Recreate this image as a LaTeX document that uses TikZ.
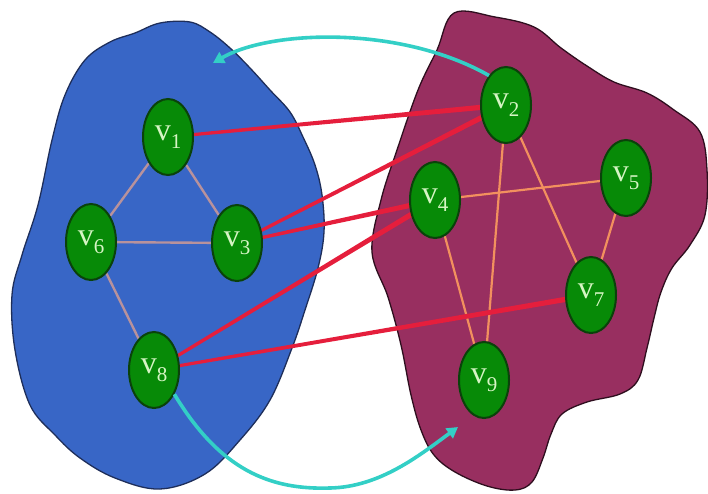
\documentclass[tikz,border=0pt]{standalone}
\usepackage{fontspec}
\setmainfont{Liberation Serif}
\usetikzlibrary{shapes.geometric,arrows.meta,calc}
\definecolor{bluefill}{HTML}{3866C6}
\definecolor{blueedge}{HTML}{1E2E5A}
\definecolor{purplefill}{HTML}{982F60}
\definecolor{purpleedge}{HTML}{2E0E1E}
\definecolor{vgreen}{HTML}{078A07}
\definecolor{vdark}{HTML}{0A420A}
\definecolor{vtext}{HTML}{D6F5C4}
\definecolor{leftedge}{HTML}{B8929C}
\definecolor{rightedge}{HTML}{F2905E}
\definecolor{redline}{HTML}{E51E3C}
\definecolor{cyanarrow}{HTML}{33CFC6}
\pgfdeclarelayer{blobs}
\pgfdeclarelayer{edges}
\pgfsetlayers{blobs,edges,main}
\newcommand{\vlab}[1]{v\raisebox{-8pt}{\fontsize{21}{21}\selectfont #1}}
\tikzset{
  vtx/.style={ellipse, draw=vdark, line width=2pt, fill=vgreen,
    minimum width=50pt, minimum height=76pt, inner sep=0pt,
    text=vtext, font=\fontsize{32}{32}\selectfont},
  thinleft/.style={draw=leftedge, line width=2.4pt},
  thinright/.style={draw=rightedge, line width=2.2pt},
  redtaper/.style={fill=redline},
  cyanarr/.style={draw=cyanarrow, line width=3.6pt,
    -{Triangle[length=11pt,width=12pt]}},
  blobblue/.style={draw=blueedge, line width=1.3pt, fill=bluefill},
  blobpurple/.style={draw=purpleedge, line width=1.3pt, fill=purplefill},
}
\newcommand{\taper}[2]{%
  \fill[redtaper] ($(#1.center)!1.5pt!90:(#2.center)$) -- ($(#2.center)!2.7pt!-90:(#1.center)$)
    -- ($(#2.center)!2.7pt!90:(#1.center)$) -- ($(#1.center)!1.5pt!-90:(#2.center)$) -- cycle;}
\begin{document}
\begin{tikzpicture}[x=1pt,y=-1pt]
\useasboundingbox (0,0) rectangle (708,493);
% nodes
\node[vtx] (v1) at (168,137) {\vlab{1}};
\node[vtx] (v6) at (91,242) {\vlab{6}};
\node[vtx] (v3) at (237,243) {\vlab{3}};
\node[vtx] (v8) at (154,370) {\vlab{8}};
\node[vtx] (v2) at (506,105) {\vlab{2}};
\node[vtx] (v4) at (435,200) {\vlab{4}};
\node[vtx] (v5) at (626,178) {\vlab{5}};
\node[vtx] (v7) at (591,295) {\vlab{7}};
\node[vtx] (v9) at (484,380) {\vlab{9}};
\coordinate (topend) at (213,63);
\coordinate (botlow) at (330,488);
\coordinate (botend) at (458,427);
\begin{pgfonlayer}{blobs}
\draw[blobblue] plot[smooth cycle, tension=0.6] coordinates {
 (160,23) (190,22) (210,32) (230,48) (250,68) (270,90) (290,112) (303,137)
 (315,165) (322,195) (324,232) (318,268) (305,310) (292,348) (270,400)
 (240,440) (205,474) (160,489) (115,478) (80,458) (55,435) (30,405)
 (15,350) (12,295) (22,255) (38,205) (52,140) (65,95) (85,60) (110,42) (135,33)};
\draw[blobpurple] plot[smooth cycle, tension=0.6] coordinates {
 (454,13) (495,17) (534,27) (561,48) (587,66) (614,82) (647,93) (674,110)
 (700,132) (707,170) (705,215) (690,245) (672,268) (661,292) (654,318)
 (647,348) (638,380) (620,394) (587,402) (562,414) (551,434) (543,458)
 (532,482) (515,490) (487,486) (455,472) (434,455) (421,430) (411,395)
 (401,345) (388,297) (372,252) (381,200) (397,150) (418,90) (437,50)};
\end{pgfonlayer}
\begin{pgfonlayer}{edges}
\draw[thinleft] (v1) -- (v6);
\draw[thinleft] (v1) -- (v3);
\draw[thinleft] (v6) -- (v3);
\draw[thinleft] (v6) -- (v8);
\draw[thinright] (v2) -- (v9);
\draw[thinright] (v2) -- (v7);
\draw[thinright] (v4) -- (v5);
\draw[thinright] (v4) -- (v9);
\draw[thinright] (v5) -- (v7);
\taper{v1}{v2}
\taper{v3}{v2}
\taper{v3}{v4}
\taper{v8}{v4}
\taper{v8}{v7}
\end{pgfonlayer}
\draw[cyanarr] (v2.120) .. controls (400,25) and (270,30) .. (topend);
\draw[cyanarr] (v8.-50) .. controls (220,470) and (270,490) .. (botlow)
  .. controls (380,487) and (420,455) .. (botend);
\end{tikzpicture}
\end{document}
